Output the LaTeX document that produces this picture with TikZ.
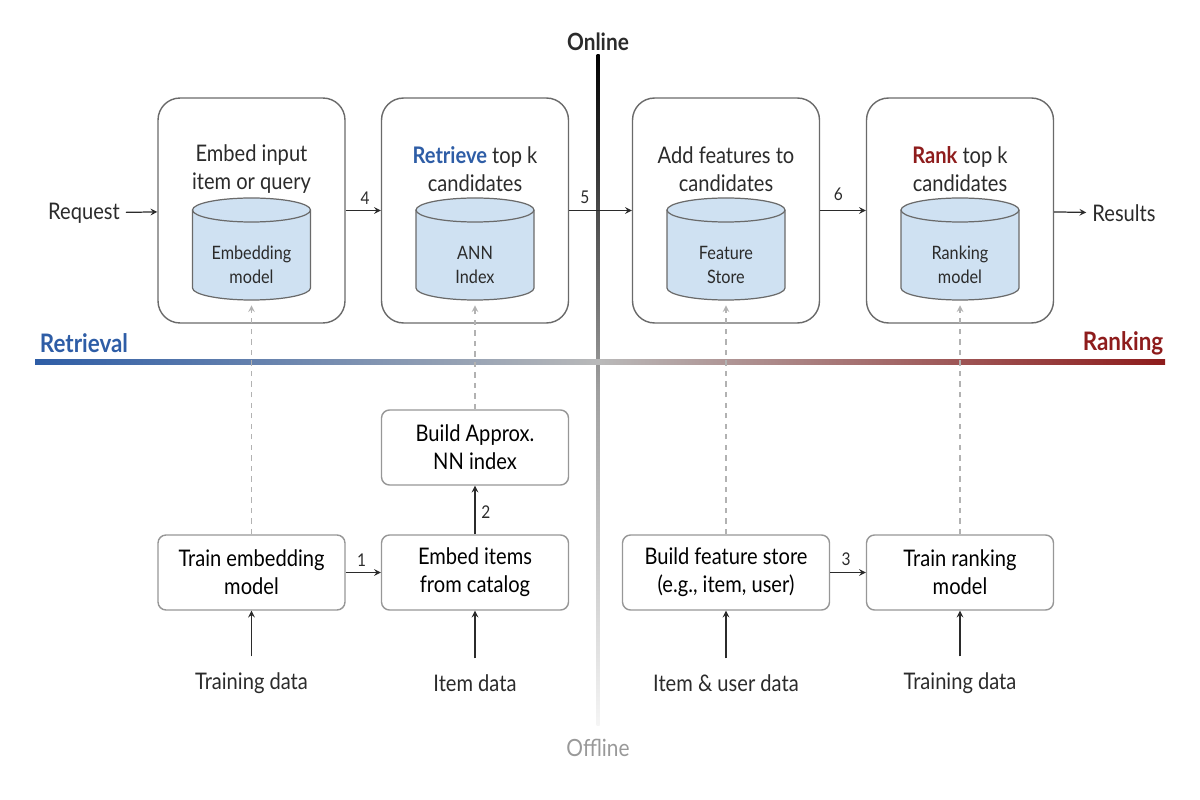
\documentclass[tikz,border=0pt]{standalone}
\usepackage{fontspec}
\setmainfont{Lato}[FakeStretch=0.88]
\definecolor{retblue}{HTML}{2E5DA6}
\definecolor{rankred}{HTML}{8E1C1C}
\definecolor{boxgray}{HTML}{6A6A6A}
\definecolor{cylfill}{HTML}{CFE1F2}
\definecolor{inkgray}{HTML}{2B2B2B}
\tikzset{
    bigbox/.style={draw=boxgray, line width=0.8pt, rounded corners=0.44cm, minimum width=3.74cm, minimum height=4.5cm},
    smallbox/.style={draw=boxgray!70, line width=0.8pt, rounded corners=0.16cm, minimum width=3.74cm, minimum height=1.5cm, align=center, font=\fontsize{13}{16}\selectfont},
    title/.style={align=center, text=inkgray, font=\fontsize{13}{16}\selectfont},
    drum/.style={draw=boxgray, fill=cylfill, line width=0.7pt},
    cyltext/.style={align=center, text=inkgray, font=\fontsize{10.5}{13.5}\selectfont},
    plain/.style={text=inkgray, font=\fontsize{13}{16}\selectfont},
    arr/.style={-stealth, draw=inkgray, line width=0.7pt},
    dasharr/.style={-stealth, draw=gray!60, dashed, line width=0.7pt},
    num/.style={font=\fontsize{10}{11}\selectfont, text=inkgray}
}
% database drum: name, x centre, text
\newcommand{\dbdrum}[3]{%
    \draw[drum] ({#2-59},210) -- ({#2-59},288)
        arc[start angle=180, end angle=360, x radius=1.18cm, y radius=0.24cm]
        -- ({#2+59},210)
        arc[start angle=0, end angle=180, x radius=1.18cm, y radius=0.24cm] -- cycle;
    \draw[drum, fill=none] ({#2-59},210) arc[start angle=180, end angle=360, x radius=1.18cm, y radius=0.24cm];
    \node[cyltext] (#1) at (#2,265) {#3};
    \coordinate (#1-b) at (#2,300);
}
\begin{document}
\begin{tikzpicture}[x=0.02cm, y=-0.02cm]
    \useasboundingbox (0,0) rectangle (1200,800);
    % online / offline divider
    \shade[top color=black, bottom color=gray!8, middle color=gray!75] (596.5,55) rectangle (599.5,725);
    \node[font=\fontsize{13.5}{15}\selectfont\bfseries, text=inkgray] (online) at (598,42) {Online};
    \node[font=\fontsize{13.5}{15}\selectfont, text=gray!80] (offline) at (598,748) {Offline};
    % retrieval / ranking divider
    \shade[left color=retblue, right color=rankred, middle color=gray!55] (35,360) rectangle (1165,365);
    \node[font=\fontsize{14.5}{16}\selectfont\bfseries, text=retblue] (retr) at (84,343) {Retrieval};
    \node[font=\fontsize{14.5}{16}\selectfont\bfseries, text=rankred] (rank) at (1123,343) {Ranking};

    % online stages
    \node[bigbox] (embbox) at (251.5,210.5) {};
    \node[bigbox] (retbox) at (475,210.5) {};
    \node[bigbox] (featbox) at (726,210.5) {};
    \node[bigbox] (rankbox) at (960,210.5) {};
    \node[title] at (251.5,169) {Embed input\\item or query};
    \node[title] at (475,169) {\textcolor{retblue}{\bfseries Retrieve} top k\\candidates};
    \node[title] at (726,169) {Add features to\\candidates};
    \node[title] at (960,169) {\textcolor{rankred}{\bfseries Rank} top k\\candidates};
    \dbdrum{embcyl}{251.5}{Embedding\\model}
    \dbdrum{anncyl}{475}{ANN\\Index}
    \dbdrum{featcyl}{726}{Feature\\Store}
    \dbdrum{rankcyl}{960}{Ranking\\model}

    \node[plain] (req) at (84,213) {Request};
    \node[plain] (res) at (1124,213) {Results};
    \draw[arr] (req) -- (embbox);
    \draw[arr] (embbox) -- node[num, above, pos=0.55] {4} (retbox);
    \draw[arr] (retbox) -- node[num, above, pos=0.25] {5} (featbox);
    \draw[arr] (featbox) -- node[num, above, pos=0.4, yshift=2pt] {6} (rankbox);
    \draw[arr] (rankbox) -- (res);

    % offline jobs
    \node[smallbox] (approx) at (475,447.5) {Build Approx.\\NN index};
    \node[smallbox] (trainemb) at (251.5,572.5) {Train embedding\\model};
    \node[smallbox] (embitems) at (475,572.5) {Embed items\\from catalog};
    \node[smallbox, minimum width=4.14cm] (buildfeat) at (726,572.5) {Build feature store\\(e.g., item, user)};
    \node[smallbox] (trainrank) at (960,572.5) {Train ranking\\model};
    \draw[arr] (trainemb) -- node[num, above, pos=0.45] {1} (embitems);
    \draw[arr] (embitems) -- node[num, right, pos=0.45] {2} (approx);
    \draw[arr] (buildfeat) -- node[num, above, pos=0.45] {3} (trainrank);

    \draw[dasharr, shorten >=3pt] (trainemb) -- (embcyl-b);
    \draw[dasharr, shorten >=3pt] (approx) -- (anncyl-b);
    \draw[dasharr, shorten >=3pt] (buildfeat) -- (featcyl-b);
    \draw[dasharr, shorten >=3pt] (trainrank) -- (rankcyl-b);

    % inputs
    \node[plain] (tdata1) at (251.5,683) {Training data};
    \node[plain] (idata) at (475,683) {Item data};
    \node[plain] (iudata) at (726,683) {Item \& user data};
    \node[plain] (tdata2) at (960,683) {Training data};
    \foreach \src/\dst in {tdata1/trainemb, idata/embitems, iudata/buildfeat, tdata2/trainrank}
        \draw[arr, shorten <=0.2cm] (\src) -- (\dst);
\end{tikzpicture}
\end{document}
